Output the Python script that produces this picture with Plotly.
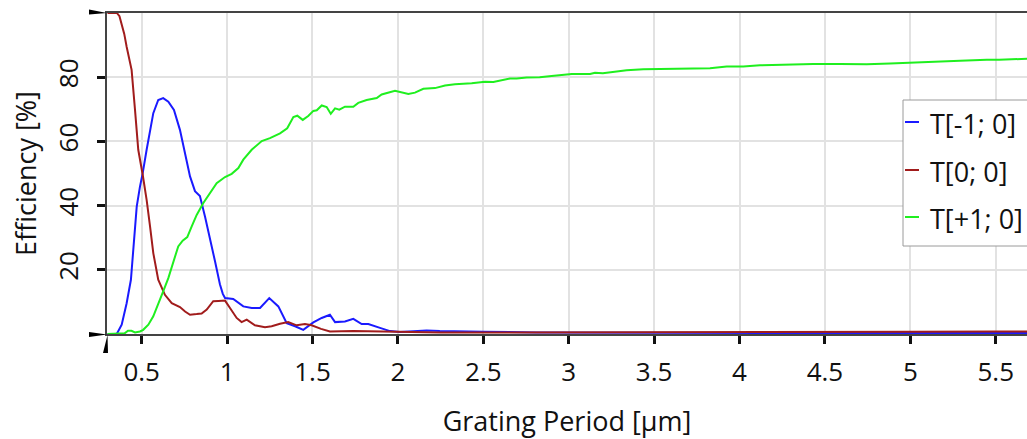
import plotly.graph_objects as go

# ---- data -------------------------------------------------------------
period_m1 = [0.30, 0.354, 0.383, 0.412, 0.437, 0.451, 0.471, 0.490, 0.506, 0.529,
             0.549, 0.568, 0.597, 0.626, 0.656, 0.689, 0.724, 0.754, 0.783, 0.812,
             0.841, 0.871, 0.900, 0.930, 0.958, 0.975, 0.988, 1.010, 1.036, 1.095,
             1.144, 1.193, 1.247, 1.300, 1.349, 1.398, 1.446, 1.505, 1.554, 1.602,
             1.632, 1.690, 1.739, 1.788, 1.827, 1.895, 1.954, 2.012, 2.090, 2.168,
             2.245, 2.320, 2.500, 2.810, 3.200, 3.600, 4.000, 4.500, 5.000, 5.500, 5.700]
eff_m1 = [0.0, 0.0, 2.9, 9.6, 16.9, 27.3, 39.7, 45.9, 50.1, 57.4,
          63.6, 68.8, 72.9, 73.5, 72.4, 69.8, 63.6, 56.3, 49.1, 44.5,
          43.0, 36.5, 30.0, 22.5, 15.5, 12.5, 11.2, 11.0, 10.9, 8.6,
          8.1, 8.1, 11.2, 8.6, 3.4, 2.4, 1.3, 3.6, 5.0, 6.0,
          3.7, 3.9, 4.7, 3.1, 3.1, 1.9, 0.9, 0.6, 0.8, 1.1,
          0.9, 0.9, 0.7, 0.5, 0.4, 0.35, 0.3, 0.3, 0.3, 0.3, 0.3]

period_0 = [0.30, 0.355, 0.370, 0.383, 0.398, 0.412, 0.427, 0.441, 0.461, 0.471,
            0.480, 0.506, 0.529, 0.549, 0.568, 0.597, 0.636, 0.676, 0.724, 0.754,
            0.783, 0.822, 0.851, 0.881, 0.919, 0.949, 0.988, 1.017, 1.056, 1.085,
            1.115, 1.163, 1.222, 1.261, 1.310, 1.358, 1.407, 1.456, 1.495, 1.550,
            1.602, 1.739, 1.890, 2.012, 2.250, 2.600, 3.000, 3.500, 4.000, 4.500,
            5.000, 5.500, 5.700]
eff_0 = [100.0, 100.0, 99.0, 96.8, 93.5, 89.5, 86.0, 82.3, 69.8, 63.6,
         57.4, 49.6, 41.8, 33.5, 25.2, 16.9, 12.2, 9.6, 8.4, 7.0,
         6.0, 6.2, 6.4, 7.6, 10.2, 10.3, 10.4, 8.1, 5.0, 3.7,
         4.5, 2.7, 2.1, 2.4, 3.2, 3.7, 2.7, 3.1, 2.7, 1.6,
         0.8, 0.9, 0.8, 0.6, 0.5, 0.5, 0.5, 0.6, 0.6, 0.7,
         0.7, 0.8, 0.8]

period_p1 = [0.30, 0.354, 0.400, 0.420, 0.440, 0.461, 0.490, 0.509, 0.539, 0.568,
             0.597, 0.626, 0.656, 0.685, 0.714, 0.740, 0.767, 0.793, 0.822, 0.861,
             0.900, 0.939, 0.988, 1.027, 1.066, 1.095, 1.144, 1.203, 1.251, 1.310,
             1.352, 1.388, 1.411, 1.443, 1.475, 1.505, 1.525, 1.554, 1.583, 1.607,
             1.632, 1.657, 1.690, 1.739, 1.768, 1.817, 1.876, 1.905, 1.983, 2.012,
             2.061, 2.100, 2.149, 2.217, 2.276, 2.334, 2.383, 2.432, 2.510, 2.559,
             2.656, 2.695, 2.754, 2.830, 2.900, 2.960, 3.018, 3.125, 3.154, 3.200,
             3.261, 3.339, 3.437, 3.574, 3.691, 3.827, 3.925, 4.022, 4.120, 4.276,
             4.432, 4.588, 4.745, 4.881, 5.018, 5.135, 5.291, 5.447, 5.520, 5.700]
eff_p1 = [0.0, 0.0, 0.2, 1.0, 1.0, 0.5, 0.8, 1.3, 2.9, 5.5,
          9.1, 13.3, 17.4, 22.1, 27.3, 29.1, 30.2, 33.5, 37.1, 40.8,
          43.9, 47.0, 48.9, 49.9, 51.7, 54.3, 57.4, 60.1, 61.0, 62.5,
          64.1, 67.6, 68.0, 66.7, 67.9, 69.5, 69.7, 71.2, 70.7, 68.6,
          70.3, 69.9, 70.8, 70.8, 72.0, 72.9, 73.5, 74.6, 75.8, 75.5,
          74.8, 75.2, 76.4, 76.6, 77.4, 77.8, 77.9, 78.1, 78.6, 78.5,
          79.6, 79.6, 79.9, 80.0, 80.4, 80.6, 81.0, 81.0, 81.4, 81.2,
          81.6, 82.2, 82.5, 82.6, 82.6, 82.8, 83.3, 83.3, 83.7, 84.0,
          84.1, 84.1, 84.0, 84.3, 84.5, 84.8, 85.1, 85.4, 85.4, 85.8]

series_names = ["T[-1; 0]", "T[0; 0]", "T[+1; 0]"]
series_colors = ["#1a1aff", "#a11c1c", "#1fef1f"]

x_tick_vals = [0.5, 1, 1.5, 2, 2.5, 3, 3.5, 4, 4.5, 5, 5.5]
x_tick_labels = ["0.5", "1", "1.5", "2", "2.5", "3", "3.5", "4", "4.5", "5", "5.5"]
y_tick_vals = [20, 40, 60, 80]
y_tick_labels = ["20", "40", "60", "80"]

# ---- figure geometry (pixels) ------------------------------------------
W, H = 1027, 439
ML, MR, MT, MB = 107, 0, 13, 105
PW, PH = W - ML - MR, H - MT - MB
FONT = "Open Sans, Noto Sans, DejaVu Sans, sans-serif"


def px(xp):
    return (xp - ML) / PW


def py(yp):
    return (H - MB - yp) / PH


fig = go.Figure()
for xs, ys, name, color in zip([period_m1, period_0, period_p1],
                               [eff_m1, eff_0, eff_p1],
                               series_names, series_colors):
    fig.add_trace(go.Scatter(x=xs, y=ys, mode="lines", name=name,
                             line=dict(color=color, width=2),
                             showlegend=False))

shapes = []
# axis-end wedges
for pts in ([(89, 9.5), (89, 14.5), (107, 13)],
            [(89, 332), (89, 337), (107, 334.5)],
            [(103, 353), (108, 353), (107.5, 335)]):
    path = "M " + " L ".join(f"{px(a):.5f},{py(b):.5f}" for a, b in pts) + " Z"
    shapes.append(dict(type="path", xref="paper", yref="paper", path=path,
                       fillcolor="black", line=dict(width=0), layer="above"))

# legend box
shapes.append(dict(type="rect", xref="paper", yref="paper",
                   x0=px(903), x1=px(1045), y0=py(246), y1=py(100),
                   line=dict(color="#9a9a9a", width=1), fillcolor="white",
                   layer="above"))
annotations = []
for name, color, yc in zip(series_names, series_colors, [122, 170, 217]):
    shapes.append(dict(type="line", xref="paper", yref="paper",
                       x0=px(905), x1=px(919), y0=py(yc), y1=py(yc),
                       line=dict(color=color, width=2), layer="above"))
    annotations.append(dict(text=name, xref="paper", yref="paper",
                            x=px(928), y=py(yc + 1), xanchor="left",
                            yanchor="middle", showarrow=False,
                            font=dict(family=FONT, size=27, color="#111")))

fig.update_layout(
    width=W, height=H,
    margin=dict(l=ML, r=MR, t=MT, b=MB, pad=0),
    paper_bgcolor="white", plot_bgcolor="white",
    font=dict(family=FONT, color="#111"),
    shapes=shapes, annotations=annotations,
    xaxis=dict(range=[0.297, 5.683], tickvals=x_tick_vals, ticktext=x_tick_labels,
               ticks="outside", ticklen=8, tickwidth=2.5, tickcolor="#111",
               tickfont=dict(size=26), ticklabelstandoff=6,
               showgrid=True, gridcolor="#e2e2e2", gridwidth=1.5,
               showline=True, linecolor="#444", linewidth=1.5, mirror=True,
               zeroline=False,
               title=dict(text="Grating Period [μm]", font=dict(size=27), standoff=25)),
    yaxis=dict(range=[0, 100], tickvals=y_tick_vals, ticktext=y_tick_labels,
               tickangle=-90, ticks="outside", ticklen=8, tickwidth=2.5,
               tickcolor="#111", tickfont=dict(size=26), ticklabelstandoff=9,
               showgrid=True, gridcolor="#e2e2e2", gridwidth=1.5,
               showline=True, linecolor="#444", linewidth=1.5,
               zeroline=False,
               title=dict(text="Efficiency [%]", font=dict(size=27), standoff=5)),
)

fig.write_html("out.html")
